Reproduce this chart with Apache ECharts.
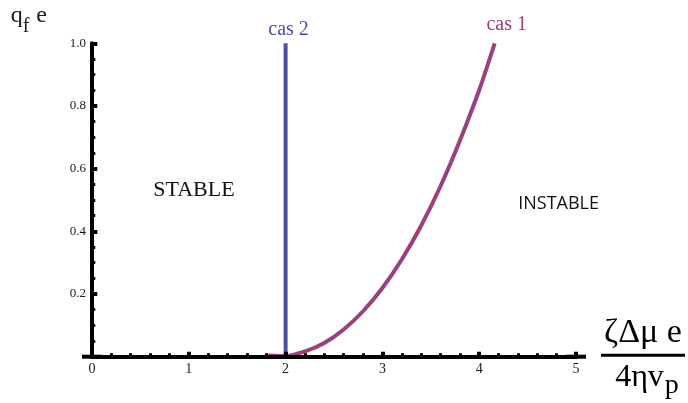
<!DOCTYPE html>
<html>
<head>
<meta charset="utf-8">
<script src="https://cdn.jsdelivr.net/npm/echarts@6/dist/echarts.min.js"></script>
<style>
  html, body { margin: 0; padding: 0; background: #fff; }
  #chart { width: 688px; height: 403px; }
</style>
</head>
<body>
<div id="chart"></div>
<script>
// Stability diagram: threshold curves in the (ζΔμ e / 4ηv_p , q_f e) plane.

const xTickLabels = [0, 1, 2, 3, 4, 5];
const yTickLabels = [0.2, 0.4, 0.6, 0.8, 1.0];

// cas 1: curved threshold
const cas1X = [1.82, 2.0, 2.2, 2.4, 2.6, 2.8, 3.0, 3.2, 3.4, 3.6, 3.8, 4.0, 4.16];
const cas1Y = [0.004, 0.002, 0.017, 0.044, 0.087, 0.145, 0.219, 0.31, 0.418, 0.544, 0.689, 0.851, 1.0];

// cas 2: vertical threshold
const cas2X = [2, 2];
const cas2Y = [0, 1];

// region annotations
const regionNames = ['STABLE', 'INSTABLE'];
const regionX = [1.053, 4.82];
const regionY = [0.532, 0.489];

const SERIF = '"Liberation Serif", "Times New Roman", serif';
const SANS = '"Open Sans", "Liberation Sans", sans-serif';
const BLUE = '#4a50a8';
const PURPLE = '#9b407d';

function pairs(xs, ys) {
  return xs.map((x, i) => [x, ys[i]]);
}

function withEndLabel(points, text, color, offset, distance) {
  return points.map((p, i) => {
    if (i !== points.length - 1) return p;
    return {
      value: p,
      label: {
        show: true,
        position: 'top',
        distance: distance,
        offset: offset,
        formatter: text,
        color: color,
        fontFamily: SERIF,
        fontSize: 20
      }
    };
  });
}

const regionStyles = [
  { fontFamily: SERIF, fontSize: 22, color: '#111' },
  { fontFamily: SANS, fontSize: 18, color: '#111' }
];

const chart = echarts.init(document.getElementById('chart'), null, { renderer: 'canvas' });

chart.setOption({
  animation: false,
  backgroundColor: '#fff',
  grid: { left: 92, right: 109.5, top: 43.3, bottom: 46.3, containLabel: false },
  xAxis: {
    type: 'value',
    min: 0,
    max: 5,
    interval: 1,
    z: 3,
    name: '{num|ζΔμ e}\n{bar| }\n{den|4ηv}{sub|p}',
    nameLocation: 'end',
    nameGap: 25,
    nameTextStyle: {
      align: 'left',
      verticalAlign: 'middle',
      padding: [0, 0, 4, 0],
      rich: {
        num: { fontFamily: SERIF, fontSize: 34, lineHeight: 42, align: 'center', color: '#000' },
        bar: { width: 84, height: 3, fontSize: 2, backgroundColor: '#000', align: 'center' },
        den: { fontFamily: SERIF, fontSize: 32, lineHeight: 41, align: 'center', padding: [0, 0, 0, 8], color: '#000' },
        sub: { fontFamily: SERIF, fontSize: 28, lineHeight: 41, align: 'center', verticalAlign: 'top', padding: [15, 0, 0, 1], color: '#000' }
      }
    },
    axisLine: {
      show: true,
      onZero: false,
      symbol: ['rect', 'rect'],
      symbolSize: [4, 20],
      lineStyle: { color: '#000', width: 4 }
    },
    axisTick: { show: true, inside: true, length: 5, lineStyle: { color: '#000', width: 4 } },
    minorTick: { show: true, splitNumber: 5, length: 3.5, lineStyle: { color: '#000', width: 3 } },
    axisLabel: {
      customValues: xTickLabels,
      margin: 6,
      fontFamily: SERIF,
      fontSize: 14,
      color: '#1a1a1a',
      formatter: v => String(v)
    },
    splitLine: { show: false },
    minorSplitLine: { show: false }
  },
  yAxis: {
    type: 'value',
    min: 0,
    max: 1,
    interval: 0.2,
    z: 3,
    name: '{q|q}{f|f}{e| e}',
    nameLocation: 'end',
    nameGap: 15,
    nameTextStyle: {
      align: 'right',
      verticalAlign: 'bottom',
      padding: [0, 45, 0, 0],
      rich: {
        q: { fontFamily: SERIF, fontSize: 24, lineHeight: 26, color: '#1a1a1a' },
        f: { fontFamily: SERIF, fontSize: 20, lineHeight: 26, verticalAlign: 'top', padding: [14, 1, 0, 0], color: '#1a1a1a' },
        e: { fontFamily: SERIF, fontSize: 24, lineHeight: 26, color: '#1a1a1a' }
      }
    },
    axisLine: { show: true, onZero: false, lineStyle: { color: '#000', width: 4 } },
    axisTick: { show: true, inside: true, length: 5.3, lineStyle: { color: '#000', width: 4 } },
    minorTick: { show: true, splitNumber: 4, length: 3.3, lineStyle: { color: '#000', width: 3 } },
    axisLabel: {
      customValues: yTickLabels,
      margin: 6,
      fontFamily: SERIF,
      fontSize: 13,
      color: '#1a1a1a',
      formatter: v => v.toFixed(1)
    },
    splitLine: { show: false },
    minorSplitLine: { show: false }
  },
  series: [
    {
      name: 'cas 1',
      type: 'line',
      data: withEndLabel(pairs(cas1X, cas1Y), 'cas 1', PURPLE, [12, 0], 9),
      smooth: 0.3,
      symbol: 'circle',
      symbolSize: 0,
      showSymbol: true,
      lineStyle: { color: PURPLE, width: 4 },
      itemStyle: { color: PURPLE },
      z: 2,
      silent: true
    },
    {
      name: 'cas 2',
      type: 'line',
      data: withEndLabel(pairs(cas2X, cas2Y), 'cas 2', BLUE, [3, 0], 4),
      symbol: 'circle',
      symbolSize: 0,
      showSymbol: true,
      lineStyle: { color: BLUE, width: 4 },
      itemStyle: { color: BLUE },
      z: 2,
      silent: true
    },
    {
      name: 'regions',
      type: 'scatter',
      symbolSize: 0,
      silent: true,
      itemStyle: { opacity: 1 },
      data: regionNames.map((n, i) => ({
        name: n,
        value: [regionX[i], regionY[i]],
        label: Object.assign({
          show: true,
          position: 'inside',
          formatter: '{b}',
          opacity: 1,
          textBorderWidth: 0
        }, regionStyles[i])
      }))
    }
  ]
});
</script>
</body>
</html>
